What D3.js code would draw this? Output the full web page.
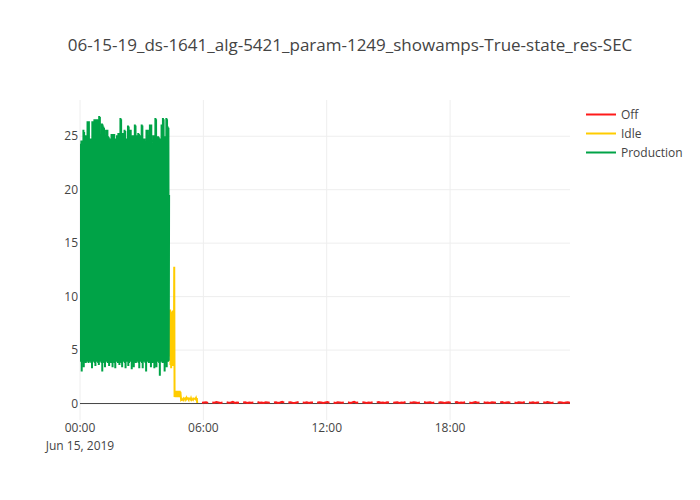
<!DOCTYPE html>
<html>
<head>
<meta charset="utf-8">
<script src="https://cdn.jsdelivr.net/npm/d3@7"></script>
<style>
  html, body { margin: 0; padding: 0; background: #fff; }
  svg { display: block; font-family: "Open Sans", verdana, arial, sans-serif; }
</style>
</head>
<body>
<svg id="chart" width="700" height="500"></svg>
<script>
// ---------------- DATA ----------------
const chartTitle = "06-15-19_ds-1641_alg-5421_param-1249_showamps-True-state_res-SEC";
const seriesNames = ["Off", "Idle", "Production"];
const seriesColors = ["#ff1a1a", "#ffcc00", "#00a347"];
const yTickValues = [0, 5, 10, 15, 20, 25];
const xTickHours = [0, 6, 12, 18];
const xTickLabels = ["00:00", "06:00", "12:00", "18:00"];
const xDateLabel = "Jun 15, 2019";

// Production: alternating peaks / troughs, one reading per minute from 00:00
const prodPeaks = [
  24.3,24.2, 24.6,24.5,24.6, 25.6,25.4, 25.0,25.1,24.9,25.0, 26.4,26.3,26.4,
  24.8,24.7,24.8,24.6, 26.4,26.3,26.4, 26.6,26.5,26.6,26.5,26.6, 26.5,26.4,
  26.9,26.8, 25.0,24.9, 26.2,26.1, 25.9,25.8, 25.1,25.0, 25.6,25.5,25.6,
  25.0,24.9, 24.8,24.7,24.8, 25.2,25.1,25.2,25.0,25.2, 24.8,24.7,24.8,
  25.1,25.0, 25.3,25.2,25.3, 26.7,26.6, 25.3,25.2,25.3,25.1, 25.6,25.5,
  24.8,24.7,24.8, 26.0,25.9, 25.6,25.5,25.6, 25.0,24.9, 25.1,25.0,25.1,
  26.1,26.0, 25.1,25.0,25.1, 25.3,25.2, 25.1,25.0,25.1, 26.1,26.0,
  24.8,24.7,24.8, 24.5,24.4, 25.6,25.5,25.6, 25.1,25.0, 26.1,26.0,26.1,
  24.3,24.2, 25.1,25.0,25.1, 26.7,26.6, 25.0,24.9,25.0,24.9, 24.8,24.7,24.8,
  26.1,26.0, 26.7,26.6, 25.0,24.9,25.0, 26.7,26.6, 25.9,25.8
];
const prodTroughs = [
  3.9,4.0,3.0,3.9,4.1,3.4,3.9,4.0,3.8,4.1,
  3.9,4.0,3.8,4.1,3.9,4.0,3.8,3.3,4.0,3.9,
  4.1,3.8,3.5,4.0,3.9,4.1,3.8,3.6,4.0,3.9,
  4.1,3.8,3.0,3.9,4.0,3.8,3.4,4.1,3.9,4.0,
  3.8,4.1,3.5,3.9,4.0,3.8,4.1,3.4,3.9,4.0,
  3.8,3.3,4.1,3.9,4.0,3.8,4.1,3.6,3.9,4.0,
  3.8,3.4,4.1,3.9,4.0,3.8,3.3,4.1,3.9,4.0,
  3.5,3.8,4.1,3.9,4.0,3.2,3.8,4.1,3.4,3.9,
  4.0,3.8,4.1,3.9,4.0,3.8,3.3,4.1,3.9,4.0,
  3.8,3.3,4.1,3.9,4.0,3.8,3.0,4.1,3.9,4.0,
  3.8,4.1,3.9,3.4,4.0,3.8,4.1,3.9,3.3,4.0,
  3.8,3.4,4.1,3.9,4.0,3.8,2.6,4.1,3.9,4.0,
  3.8,4.1,3.9,3.0,4.0,3.8,3.4,4.1,3.9,4.0
];
const prodLast = 19.5;          // final production reading

// Idle: one reading per minute starting at minute 261
const idleStartMin = 261;
const idleVals = [
  8.7,4.4,8.8,3.6,8.6,3.3,8.5,4.2,8.4,3.5,8.7,4.0,8.6,3.6,
  12.8,0.6,
  1.2,0.6,1.1,0.7,1.2,0.6,1.2,0.7,1.1,0.6,1.2,0.7,1.1,0.6,1.2,0.6,1.1,0.7,
  0.4,0.45,0.4,0.5,null,0.4,0.35,0.45,0.4,0.55,0.4,null,0.4,0.45,0.35,0.4,
  0.5,0.4,null,0.4,0.45,0.4,0.35,0.55,0.4,0.4,null,0.45,0.4,0.5,0.4,0.35,
  0.4,null,0.45,0.4,0.55,0.4,0.4,0.35,null,0.4,0.45,0.4,0.5,0.4,
  0.5,0.05
];

// Off: one reading every 6 minutes starting at minute 356
const offStartMin = 356;
const offStepMin = 6;
const offVals = [
  0.08,0.1,0.12,0.06,null,0.1,0.08,0.14,0.1,0.06,0.1,null,0.12,0.08,0.1,0.15,0.06,0.1,0.08,null,
  0.1,0.12,0.06,0.1,0.08,0.1,null,0.14,0.08,0.1,0.06,0.12,0.1,0.08,null,0.1,0.12,0.06,0.1,0.16,
  0.08,null,0.1,0.12,0.08,0.06,0.1,0.14,null,0.1,0.08,0.12,0.06,0.1,0.1,null,0.08,0.12,0.1,0.06,
  0.1,0.14,0.08,null,0.1,0.06,0.12,0.1,0.08,0.1,null,0.12,0.06,0.1,0.16,0.08,0.1,null,0.12,0.1,
  0.06,0.1,0.08,0.12,null,0.1,0.14,0.08,0.1,0.06,0.12,0.1,null,0.08,0.1,0.12,0.06,0.1,0.08,0.14,
  null,0.1,0.08,0.12,0.1,0.06,0.1,null,0.14,0.08,0.1,0.12,0.06,0.1,null,0.08,0.12,0.1,0.06,0.1,
  0.12,0.08,null,0.1,0.14,0.06,0.1,0.08,0.12,null,0.1,0.06,0.1,0.15,0.08,0.1,null,0.12,0.08,0.1,
  0.06,0.12,0.1,0.08,null,0.1,0.14,0.06,0.1,0.12,0.08,null,0.1,0.06,0.12,0.1,0.08,0.14,null,0.1,
  0.08,0.12,0.06,0.1,0.1,null,0.12,0.08,0.14,0.1,0.06,0.1,null,0.08,0.12,0.1,0.06,0.1,0.12,0.08
];

// ---------------- BUILD SERIES ----------------
const day0 = new Date(2019, 5, 15, 0, 0, 0);
const atMin = m => new Date(day0.getTime() + m * 60000);

const prodSeries = [];
prodPeaks.forEach((p, i) => {
  prodSeries.push({ t: atMin(2 * i), v: p });
  prodSeries.push({ t: atMin(2 * i + 1), v: prodTroughs[i] });
});
prodSeries.push({ t: atMin(2 * prodPeaks.length), v: prodLast });

const idleSeries = idleVals.map((v, i) => ({ t: atMin(idleStartMin + i), v }));
const offSeries = offVals.map((v, i) => ({ t: atMin(offStartMin + i * offStepMin), v }));
const allSeries = [offSeries, idleSeries, prodSeries];

// ---------------- LAYOUT ----------------
const W = 700, H = 500;
const margin = { l: 80, r: 130, t: 100, b: 80 };
const plotW = W - margin.l - margin.r;
const plotH = H - margin.t - margin.b;

const svg = d3.select("#chart");

const xExtent = d3.extent(allSeries.flat(), d => d.t);
const x = d3.scaleTime().domain(xExtent).range([margin.l, margin.l + plotW]);
const y = d3.scaleLinear().domain([-1.54, 28.39]).range([margin.t + plotH, margin.t]);

// title
svg.append("text")
  .attr("x", W / 2).attr("y", 51)
  .attr("text-anchor", "middle")
  .attr("font-size", 17).attr("fill", "#444")
  .text(chartTitle);

// gridlines
const xTickDates = xTickHours.map(h => atMin(h * 60));
const grid = svg.append("g");
grid.selectAll("line.xg").data(xTickDates).join("line")
  .attr("x1", d => x(d)).attr("x2", d => x(d))
  .attr("y1", margin.t).attr("y2", margin.t + plotH)
  .attr("stroke", "#eee").attr("stroke-width", 1);
grid.selectAll("line.yg").data(yTickValues.filter(v => v !== 0)).join("line")
  .attr("x1", margin.l).attr("x2", margin.l + plotW)
  .attr("y1", d => y(d)).attr("y2", d => y(d))
  .attr("stroke", "#eee").attr("stroke-width", 1);

// zero line
svg.append("line")
  .attr("x1", margin.l).attr("x2", margin.l + plotW)
  .attr("y1", y(0)).attr("y2", y(0))
  .attr("stroke", "#444").attr("stroke-width", 1);

// traces
svg.append("clipPath").attr("id", "clip")
  .append("rect").attr("x", margin.l).attr("y", margin.t)
  .attr("width", plotW).attr("height", plotH);

const line = d3.line()
  .defined(d => d.v !== null)
  .x(d => x(d.t)).y(d => y(d.v));

const traces = svg.append("g").attr("clip-path", "url(#clip)");
allSeries.forEach((s, i) => {
  traces.append("path")
    .datum(s)
    .attr("d", line)
    .attr("fill", "none")
    .attr("stroke", seriesColors[i])
    .attr("stroke-width", 2);
});

// y tick labels
svg.append("g").selectAll("text").data(yTickValues).join("text")
  .attr("x", 78).attr("y", d => y(d) + 4)
  .attr("text-anchor", "end")
  .attr("font-size", 12).attr("fill", "#444")
  .text(d => d);

// x tick labels
svg.append("g").selectAll("text").data(xTickDates).join("text")
  .attr("x", d => x(d)).attr("y", margin.t + plotH + 12)
  .attr("text-anchor", "middle")
  .attr("font-size", 12).attr("fill", "#444")
  .text((d, i) => xTickLabels[i]);
svg.append("text")
  .attr("x", x(xTickDates[0])).attr("y", margin.t + plotH + 30)
  .attr("text-anchor", "middle")
  .attr("font-size", 12).attr("fill", "#444")
  .text(xDateLabel);

// legend
const legend = svg.append("g");
seriesNames.forEach((name, i) => {
  const ly = 114.5 + i * 19;
  legend.append("line")
    .attr("x1", 586).attr("x2", 616).attr("y1", ly).attr("y2", ly)
    .attr("stroke", seriesColors[i]).attr("stroke-width", 2);
  legend.append("text")
    .attr("x", 621).attr("y", ly + 4.5)
    .attr("font-size", 12).attr("fill", "#444")
    .text(name);
});
</script>
</body>
</html>
